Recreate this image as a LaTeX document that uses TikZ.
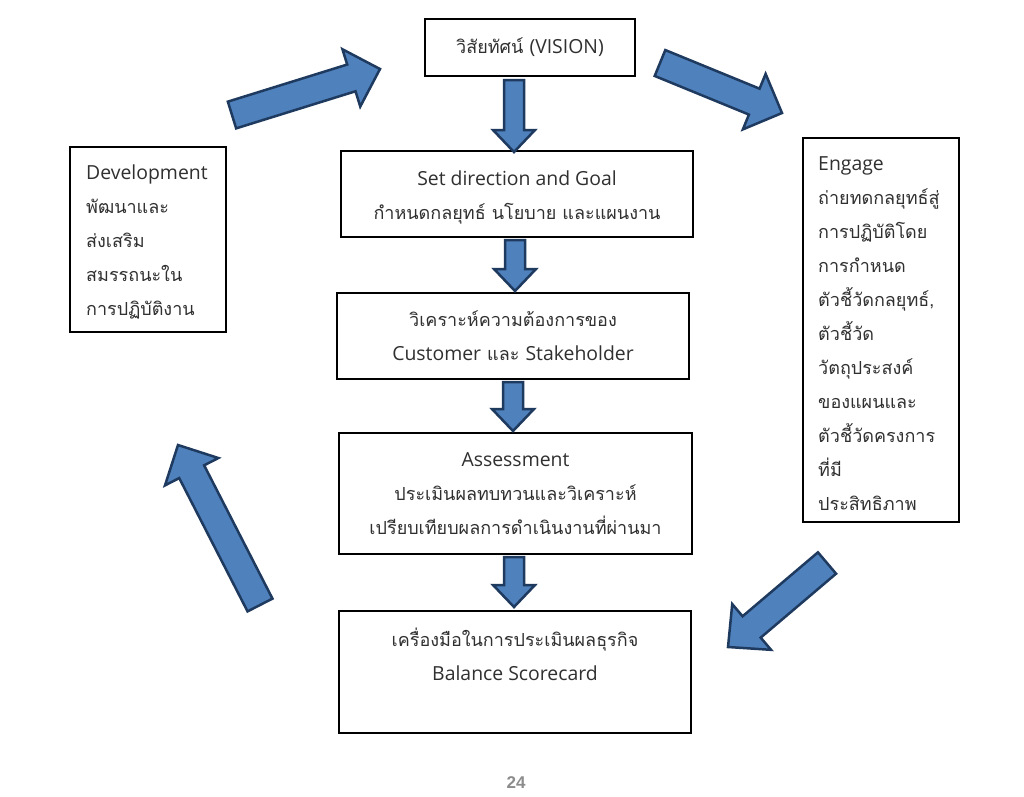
\documentclass[tikz,border=0pt]{standalone}
\usepackage{fontspec}
\usetikzlibrary{calc}
\newfontfamily\thaifont[Script=Thai]{Loma}
\newfontfamily\latfont{Open Sans}
\newfontfamily\pnfont{Liberation Sans}
\newcommand{\lat}[1]{{\latfont\fontsize{19.4}{34}\selectfont #1}}
\definecolor{abfill}{HTML}{4F81BD}
\definecolor{abdraw}{HTML}{1F3A5F}
\definecolor{txtcol}{HTML}{303030}
\definecolor{pncol}{HTML}{8C8C8C}
\tikzset{
  boxnode/.style={draw=black, line width=1.3pt, fill=white, rectangle, inner sep=0pt,
    font=\thaifont\fontsize{18}{34}\selectfont, text=txtcol, align=center},
  txtnode/.style={font=\thaifont\fontsize{18}{34}\selectfont, text=txtcol, inner sep=0pt},
  barrow/.style={fill=abfill, draw=abdraw, line width=2.5pt, line join=miter},
}
\newcommand{\blockarrow}[5]{%
  \coordinate (hb) at ($(#2)!#5!(#1)$);
  \draw[barrow] ($(#1)!#3!90:(#2)$) -- ($(hb)!#3!90:(#2)$) -- ($(hb)!#4!90:(#2)$) -- (#2)
    -- ($(hb)!#4!-90:(#2)$) -- ($(hb)!#3!-90:(#2)$) -- ($(#1)!#3!-90:(#2)$) -- cycle;}
\begin{document}
\begin{tikzpicture}[x=1pt,y=-1pt]
\useasboundingbox[fill=white] (0,0) rectangle (1024,796);

% boxes
\node[boxnode, minimum width=210pt, minimum height=57pt] (vision) at (530,47.5) {วิสัยทัศน์ \lat{(VISION)}};
\node[boxnode, minimum width=352pt, minimum height=86pt] (setdir) at (517,194) {};
\node[txtnode, align=center] (settxt) at (517,197) {\lat{Set direction and Goal}\\กำหนดกลยุทธ์ นโยบาย และแผนงาน};
\node[boxnode, minimum width=352pt, minimum height=86pt] (analyze) at (513,336) {วิเคราะห์ความต้องการของ\\\lat{Customer} และ \lat{Stakeholder}};
\node[boxnode, minimum width=353pt, minimum height=121pt] (assess) at (515.5,493.5) {\lat{Assessment}\\ประเมินผลทบทวนและวิเคราะห์\\เปรียบเทียบผลการดำเนินงานที่ผ่านมา};
\node[boxnode, minimum width=352pt, minimum height=122pt] (tool) at (515,672) {};
\node[txtnode, align=center] (tooltxt) at (515,654) {เครื่องมือในการประเมินผลธุรกิจ\\\lat{Balance Scorecard}};
\node[boxnode, minimum width=156pt, minimum height=185pt] (dev) at (148,239.5) {};
\node[txtnode, align=left, anchor=west] (devtxt) at (86,242) {\lat{Development}\\พัฒนาและ\\ส่งเสริม\\สมรรถนะใน\\การปฏิบัติงาน};
\node[boxnode, minimum width=156pt, minimum height=384pt] (engage) at (881,330) {};
\node[txtnode, align=left, anchor=west] (engtxt) at (818,334) {\lat{Engage}\\ถ่ายทดกลยุทธ์สู่\\การปฏิบัติโดย\\การกำหนด\\ตัวชี้วัดกลยุทธ์,\\ตัวชี้วัด\\วัตถุประสงค์\\ของแผนและ\\ตัวชี้วัดครงการ\\ที่มี\\ประสิทธิภาพ};

% down arrows
\coordinate (d1t) at (514,80);  \coordinate (d1h) at (514,152);
\coordinate (d2t) at (515,240); \coordinate (d2h) at (515,291);
\coordinate (d3t) at (513,382); \coordinate (d3h) at (513,431);
\coordinate (d4t) at (514,557); \coordinate (d4h) at (514,607);
\blockarrow{d1t}{d1h}{10pt}{21pt}{22pt}
\blockarrow{d2t}{d2h}{10pt}{21pt}{22pt}
\blockarrow{d3t}{d3h}{10pt}{21pt}{22pt}
\blockarrow{d4t}{d4h}{10pt}{21pt}{22pt}

% cycle arrows
\coordinate (a1t) at (232,115); \coordinate (a1h) at (380,69);
\coordinate (a2t) at (660,63);  \coordinate (a2h) at (782,113);
\coordinate (a3t) at (827,563); \coordinate (a3h) at (728,647);
\coordinate (a4t) at (260,605); \coordinate (a4h) at (178,445);
\blockarrow{a1t}{a1h}{14pt}{30pt}{30pt}
\blockarrow{a2t}{a2h}{14pt}{30pt}{30pt}
\blockarrow{a3t}{a3h}{14pt}{30pt}{31pt}
\blockarrow{a4t}{a4h}{14pt}{30pt}{30pt}

\node[font=\pnfont\bfseries\fontsize{17}{20}\selectfont, text=pncol, inner sep=0pt] (pagenum) at (516,783) {24};
\end{tikzpicture}
\end{document}
